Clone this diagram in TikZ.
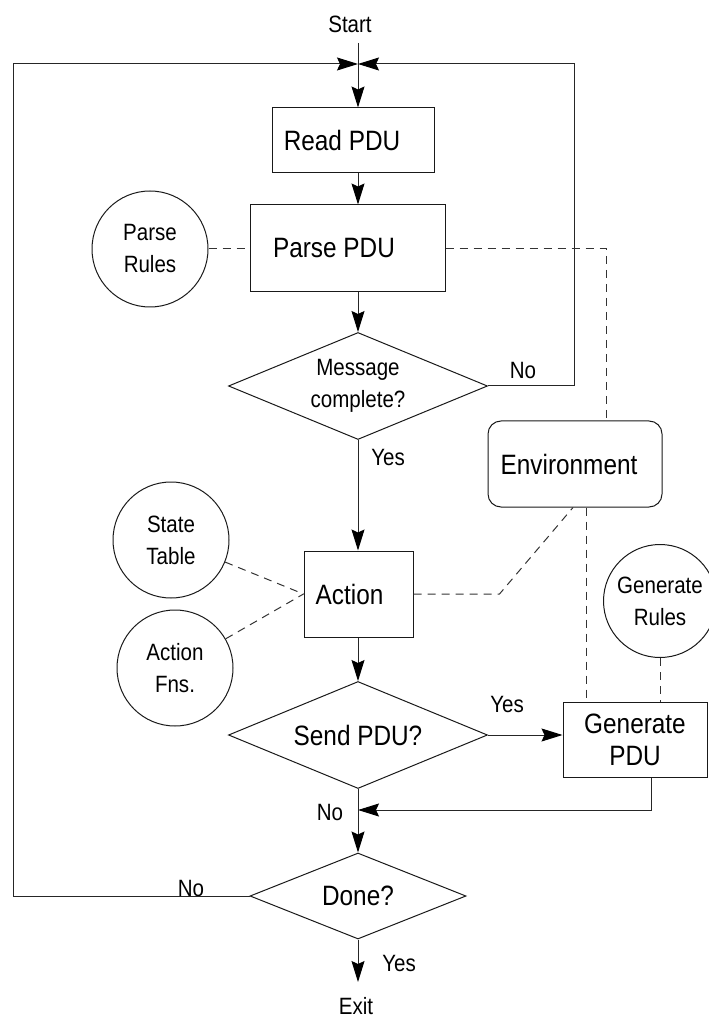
\documentclass[tikz,border=0pt]{standalone}
\usepackage{fontspec}
\setmainfont{Liberation Sans}[FakeStretch=0.87]
\usetikzlibrary{shapes.geometric,arrows.meta}

\begin{document}
\begin{tikzpicture}[x=0.5pt,y=0.5pt,yscale=-1,xscale=1,line width=0.5pt,
  bigtext/.style={font=\fontsize{14}{16}\selectfont},
  smalltext/.style={font=\fontsize{11.8}{16}\selectfont},
  procbox/.style={draw=black!90,rectangle,bigtext,align=center,inner sep=0pt},
  decision/.style={draw=black!90,diamond,inner sep=0pt,align=center},
  store/.style={draw=black!90,circle,minimum size=58pt,inner sep=0pt,smalltext,align=center},
  lbl/.style={smalltext,inner sep=0.75pt},
  flow/.style={draw=black!85,-{Stealth[length=10.5pt,width=6.5pt,inset=1.5pt,color=black]}},
  dsh/.style={draw=black!80,dash pattern=on 4pt off 3pt}]
\useasboundingbox (0,0) rectangle (708,1020);

% Text Node
\node[lbl] (start) at (350,24) {Start};
\coordinate (stemtop) at (358,43);
\coordinate (jn) at (358,64);
\coordinate (lft) at (13,64);
\coordinate (rgt) at (574,64);
\coordinate (merge) at (358,810);
\coordinate (exittip) at (358,982);

%Shape: Rectangle
\node[procbox,minimum width=81pt,minimum height=32.5pt] (read) at (353,140.5) {Read PDU\hspace*{11pt}};
%Shape: Rectangle
\node[procbox,minimum width=97.5pt,minimum height=43.5pt] (parse) at (347.5,248.5) {Parse PDU\hspace*{13.5pt}};
%Shape: Circle
\node[store] (prules) at (150,249) {Parse\\Rules};
%Shape: Diamond
\node[decision,smalltext,minimum width=129.5pt,minimum height=53.5pt,aspect=2.42] (msg) at (358,386) {Message\\complete?};
%Shape: Rounded Rectangle
\node[procbox,rounded corners=6.5pt,minimum width=87pt,minimum height=43pt] (env) at (575,464) {Environment\hspace*{6pt}};
%Shape: Circle
\node[store] (stable) at (171,540) {State\\Table};
\node[store] (afns) at (175,668) {Action\\Fns.};
%Shape: Rectangle
\node[procbox,minimum width=54.5pt,minimum height=43pt] (action) at (358.5,594) {Action\hspace*{9pt}};
%Shape: Circle
\node[store,minimum size=56.5pt] (grules) at (660,601) {Generate\\Rules};
%Shape: Diamond
\node[decision,bigtext,minimum width=129.5pt,minimum height=53.5pt,aspect=2.42] (send) at (358,735) {Send PDU?};
%Shape: Rectangle
\node[procbox,minimum width=72pt,minimum height=37.5pt] (gen) at (635,739.5) {Generate\\PDU};
%Shape: Diamond
\node[decision,bigtext,minimum width=108pt,minimum height=43pt,aspect=2.51] (done) at (358,896) {Done?};
% Text Node
\node[lbl] (exit) at (356,1006) {Exit};

% Text Node
\node[lbl] (nomsg) at (523,370) {No};
\node[lbl] (yesmsg) at (388,457) {Yes};
\node[lbl] (yessend) at (507,704) {Yes};
\node[lbl] (nosend) at (330,812) {No};
\node[lbl] (nodone) at (191,888) {No};
\node[lbl] (yesdone) at (399,963) {Yes};

%Straight Lines
\draw[flow] (stemtop) -- (jn |- read.north);
\draw[flow] (done.west) -- (done.west -| lft) -- (lft) -- (jn);
\draw[flow] (msg.east) -- (msg.east -| rgt) -- (rgt) -- (jn);
\draw[flow] (jn |- read.south) -- (jn |- parse.north);
\draw[flow] (jn |- parse.south) -- (msg.north);
\draw[flow] (msg.south) -- (jn |- action.north);
\draw[flow] (jn |- action.south) -- (send.north);
\draw[flow] (send.east) -- (send.east -| gen.west);
\draw[flow] ([xshift=8pt]gen.south) |- (merge);
\draw[flow] (send.south) -- (done.north);
\draw[flow] (done.south) -- (exittip);

%Dashed Lines
\draw[dsh] (prules.east) -- (prules.east -| parse.west);
\draw[dsh] (parse.east) -| ([xshift=15.5pt]env.north);
\draw[dsh] (stable) -- (action.west);
\draw[dsh] (afns) -- (action.west);
\draw[dsh] (action.east) -- ++(86,0) -- ([xshift=-1pt]env.south);
\draw[dsh] ([xshift=5.5pt]env.south) -- ([xshift=5.5pt]env.south |- gen.north);
\draw[dsh] (grules.south) -- (grules.south |- gen.north);

\end{tikzpicture}
\end{document}
